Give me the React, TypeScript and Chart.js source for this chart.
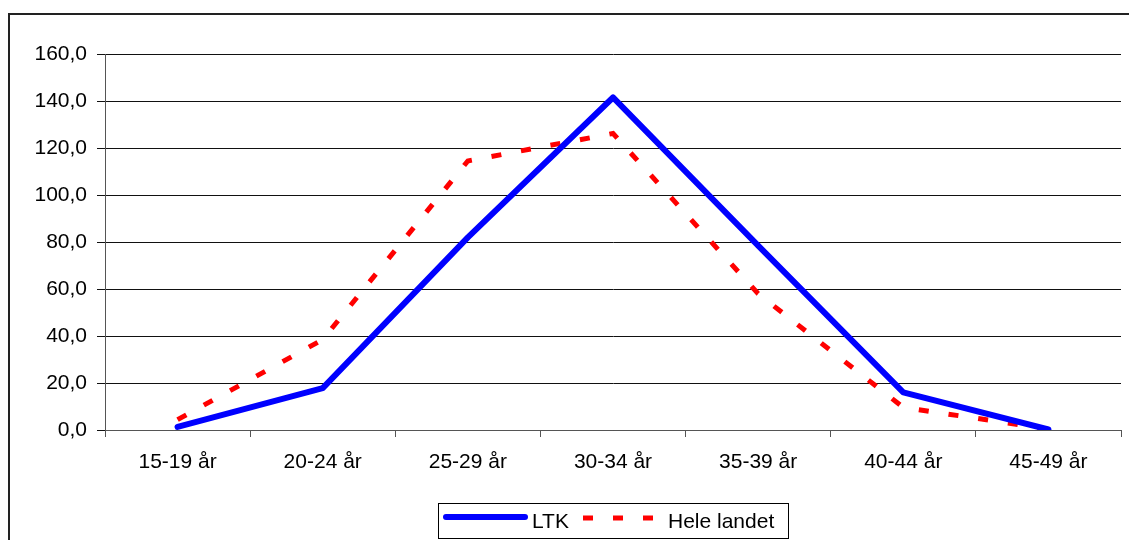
import React, { useEffect, useRef } from "react";
import { Chart, registerables } from "chart.js";

Chart.register(...registerables);

const categories = ["15-19 år", "20-24 år", "25-29 år", "30-34 år", "35-39 år", "40-44 år", "45-49 år"];
const ltkValues = [1.3, 17.8, 82, 141.5, 78.5, 16, 0.2];
const heleLandetValues = [4.4, 38.5, 114.5, 126.2, 58, 9.6, 0.4];
const seriesLabels = ["LTK", "Hele landet"];
const yTicks = { min: 0, max: 160, step: 20 };

const FONT = "'Liberation Sans', Arial, sans-serif";

const framePlugin = {
  id: "frameAndLegend",
  beforeDraw(chart: any) {
    const ctx = chart.ctx;
    ctx.save();
    ctx.strokeStyle = "#222";
    ctx.lineWidth = 2;
    ctx.beginPath();
    ctx.moveTo(9, 600);
    ctx.lineTo(9, 14);
    ctx.lineTo(1200, 14);
    ctx.stroke();
    ctx.restore();
  },
  afterDraw(chart: any) {
    const ctx = chart.ctx;
    const ds = chart.data.datasets;
    ctx.save();
    ctx.strokeStyle = "#000";
    ctx.lineWidth = 1;
    ctx.strokeRect(438.5, 503.5, 350, 35);
    // LTK sample
    ctx.strokeStyle = ds[0].borderColor;
    ctx.lineWidth = 6;
    ctx.lineCap = "round";
    ctx.beginPath();
    ctx.moveTo(446, 517);
    ctx.lineTo(525, 517);
    ctx.stroke();
    // Hele landet sample
    ctx.strokeStyle = ds[1].borderColor;
    ctx.lineWidth = 5;
    ctx.lineCap = "butt";
    ctx.setLineDash([10, 20]);
    ctx.beginPath();
    ctx.moveTo(583, 518);
    ctx.lineTo(655, 518);
    ctx.stroke();
    ctx.setLineDash([]);
    ctx.fillStyle = "#000";
    ctx.font = `21px ${FONT}`;
    ctx.textBaseline = "alphabetic";
    ctx.textAlign = "left";
    ctx.fillText(ds[0].label, 532, 528);
    ctx.fillText(ds[1].label, 668, 528);
    ctx.restore();
  },
};

export default function App() {
  const canvasRef = useRef<HTMLCanvasElement | null>(null);

  useEffect(() => {
    if (!canvasRef.current) return;
    const chart = new Chart(canvasRef.current, {
      type: "line",
      data: {
        labels: categories,
        datasets: [
          {
            label: seriesLabels[0],
            data: ltkValues,
            borderColor: "#0000FF",
            backgroundColor: "#0000FF",
            borderWidth: 6,
            borderCapStyle: "round",
            borderJoinStyle: "round",
            pointRadius: 0,
            tension: 0,
          },
          {
            label: seriesLabels[1],
            data: heleLandetValues,
            borderColor: "#FF0000",
            backgroundColor: "#FF0000",
            borderWidth: 5,
            borderDash: [10, 20],
            borderCapStyle: "butt",
            borderJoinStyle: "miter",
            pointRadius: 0,
            tension: 0,
          },
        ],
      },
      options: {
        animation: false,
        responsive: false,
        maintainAspectRatio: false,
        layout: { padding: { left: 0, right: 8, top: 54, bottom: 0 } },
        plugins: {
          legend: { display: false },
          tooltip: { enabled: false },
        },
        scales: {
          x: {
            offset: true,
            grid: {
              offset: true,
              drawOnChartArea: false,
              drawTicks: true,
              tickLength: 7,
              color: "#555",
            },
            border: { color: "#555", width: 1 },
            ticks: {
              color: "#000",
              font: { family: FONT, size: 21 },
              padding: 13,
              maxRotation: 0,
              autoSkip: false,
            },
            afterFit: (scale: any) => {
              scale.height = 110;
            },
          },
          y: {
            min: yTicks.min,
            max: yTicks.max,
            grid: {
              color: "#111",
              drawTicks: true,
              tickLength: 8,
            },
            border: { color: "#555", width: 1 },
            ticks: {
              stepSize: yTicks.step,
              color: "#000",
              padding: 10,
              font: { family: FONT, size: 21 },
              callback: (v: any) => Number(v).toFixed(1).replace(".", ","),
            },
            afterFit: (scale: any) => {
              scale.width = 105;
            },
          },
        },
      },
      plugins: [framePlugin],
    });
    return () => chart.destroy();
  }, []);

  return (
    <div style={{ position: "fixed", left: 0, top: 0, width: 1129, height: 540, overflow: "hidden", background: "#fff" }}>
      <canvas ref={canvasRef} width={1129} height={540} style={{ display: "block", width: 1129, height: 540 }} />
    </div>
  );
}
